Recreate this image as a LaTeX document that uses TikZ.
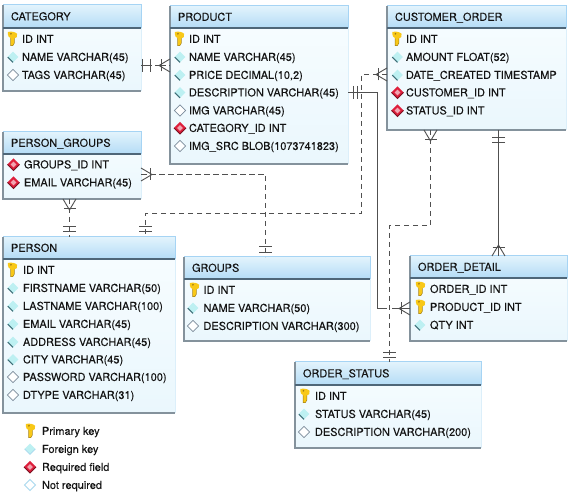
\documentclass[tikz,border=0pt]{standalone}
\usepackage{fontspec}
\setmainfont{TeX Gyre Heros}[FakeBold=0.1]
\definecolor{linec}{HTML}{505050}
\definecolor{bodya}{HTML}{F8FDFF}
\definecolor{bodyb}{HTML}{EAF7FD}
\definecolor{heada}{HTML}{E2F3FC}
\definecolor{headb}{HTML}{B4DCF6}
\definecolor{edgeblue}{HTML}{A6D4F4}
\definecolor{edgefaint}{HTML}{DCEFFA}
\definecolor{edgegray}{HTML}{84929C}
\definecolor{headline}{HTML}{4E6678}
\definecolor{keyc}{HTML}{F8C818}
\definecolor{keyd}{HTML}{9C7A14}
\definecolor{fkc}{HTML}{BDF0F2}
\definecolor{fkd}{HTML}{3E6E78}
\definecolor{reqc}{HTML}{DE1F3C}
\definecolor{reqd}{HTML}{7A1020}
\definecolor{nrd}{HTML}{7C8C9C}
\definecolor{legedge}{HTML}{A8D8EE}
\tikzset{
  every node/.style={inner sep=0pt,outer sep=0pt},
  tblbody/.style={anchor=north west,top color=bodya,bottom color=bodyb,draw=none},
  tblhead/.style={anchor=north west,top color=heada,bottom color=headb,draw=none},
  rowtext/.style={anchor=base west,font=\fontsize{10.95}{12}\selectfont,text=black!92},
  conn/.style={draw=linec,line width=1.1pt},
  dconn/.style={conn,dash pattern=on 5.5pt off 3.5pt},
  mark line/.style={draw=linec,line width=0.9pt},
  pics/crow/.style={code={
    \draw[mark line] (0,-6.5) -- (11,0) -- (0,6.5);
    \draw[mark line] (9,-6) -- (9,6);
  }},
  pics/onebar/.style 2 args={code={
    \draw[mark line] (#1,-6.5) -- (#1,6.5);
    \draw[mark line] (#2,-6.5) -- (#2,6.5);
  }},
  pics/keyicon/.style={code={
    \fill[keyd] (-2.2,-1) -- (-2.2,7) -- (0.4,7) -- (2.2,4) -- (2.2,-1) -- cycle;
    \fill[keyc] (-4.6,-7) .. controls (-2,-7.6) and (2.4,-7.6) .. (4.6,-5.2)
      -- (4.2,-1.8) -- (1.7,-0.6) -- (1.7,3.7) -- (0.1,6.5) -- (-1.7,6.5) -- (-1.7,-0.6)
      .. controls (-3.7,-1.3) and (-4.8,-3) .. cycle;
    \fill[keyd] (-1.6,-5.2) circle (0.9);
  }},
  pics/fkicon/.style={code={
    \fill[fkc] (0,-5.4) -- (5.4,0) -- (0,5.4) -- (-5.4,0) -- cycle;
    \draw[fkd,line width=1.2pt] (-5.2,0.2) -- (0,5.4);
  }},
  pics/legfkicon/.style={code={
    \fill[fkc] (0,-5.4) -- (5.4,0) -- (0,5.4) -- (-5.4,0) -- cycle;
    \draw[legedge,line width=0.8pt] (-5.4,0) -- (0,5.4) -- (5.4,0);
  }},
  pics/reqicon/.style={code={
    \fill[reqc] (0,-6) -- (6,0) -- (0,6) -- (-6,0) -- cycle;
    \draw[reqd,line width=0.8pt] (-6,0) -- (0,6) -- (6,0);
    \fill[white!60!reqc] (0,-2.8) -- (2.8,0) -- (0,2.8) -- (-2.8,0) -- cycle;
  }},
  pics/nricon/.style={code={
    \fill[white] (0,-5.6) -- (5.6,0) -- (0,5.6) -- (-5.6,0) -- cycle;
    \draw[nrd,line width=0.8pt] (0,-5.6) -- (5.6,0) -- (0,5.6) -- (-5.6,0) -- cycle;
  }},
  pics/legnricon/.style={code={
    \fill[white] (0,-5.6) -- (5.6,0) -- (0,5.6) -- (-5.6,0) -- cycle;
    \draw[legedge,line width=0.9pt] (0,-5.6) -- (5.6,0) -- (0,5.6) -- (-5.6,0) -- cycle;
  }},
}
\newcount\rowno
% \tablebox{name}{x1}{y1}{x2}{y2}{header bottom}{title}
\newcommand{\tablebox}[7]{%
  \pgfmathsetmacro{\tw}{#4-#2}\pgfmathsetmacro{\th}{#5-#3}\pgfmathsetmacro{\thh}{#6-#3}%
  \node[tblbody,minimum width=\tw pt,minimum height=\th pt] (#1) at (#2,#3) {};
  \node[tblhead,minimum width=\tw pt,minimum height=\thh pt] (#1-head) at (#2,#3) {};
  \draw[edgefaint,line width=1pt] (#1.south east) -- (#1-head.south east);
  \draw[edgeblue,line width=1pt] (#1-head.south east) -- (#1.north east) -- (#1.north west);
  \draw[edgegray,line width=1.4pt] (#1.north west) -- (#1.south west) -- (#1.south east);
  \draw[headline,line width=1.1pt] (#1-head.south west) -- (#1-head.south east);
  \pgfmathsetmacro{\tx}{#2+8}\pgfmathsetmacro{\ty}{(#3+#6)/2+3.8}%
  \node[rowtext] (#1-title) at (\tx,\ty) {#7};
}
% \fieldrow{icon}{icon x}{text x}{y}{text}
\newcommand{\fieldrow}[5]{%
  \global\advance\rowno by 1
  \pgfmathsetmacro{\ry}{#4+3.9}%
  \pic at (#2,#4) {#1};
  \node[rowtext] (row\the\rowno) at (#3,\ry) {#5};
}
\begin{document}
\begin{tikzpicture}[x=1pt,y=-1pt]
\useasboundingbox (0,0) rectangle (571,494);
\fill[white] (0,0) rectangle (571,494);

\tablebox{category}{3}{5}{141}{91}{28}{CATEGORY}
\fieldrow{keyicon}{12.5}{22}{39}{ID INT}
\fieldrow{fkicon}{13}{22}{57}{NAME VARCHAR(45)}
\fieldrow{nricon}{13}{22}{75}{TAGS VARCHAR(45)}

\tablebox{product}{170}{6}{348}{164}{28}{PRODUCT}
\fieldrow{keyicon}{179.5}{189}{39}{ID INT}
\fieldrow{fkicon}{180}{189}{57}{NAME VARCHAR(45)}
\fieldrow{fkicon}{180}{189}{75}{PRICE DECIMAL(10,2)}
\fieldrow{fkicon}{180}{189}{92.5}{DESCRIPTION VARCHAR(45)}
\fieldrow{nricon}{180}{189}{110.5}{IMG VARCHAR(45)}
\fieldrow{reqicon}{180}{189}{128}{CATEGORY\_ID INT}
\fieldrow{nricon}{180}{189}{146}{IMG\_SRC BLOB(1073741823)}

\tablebox{customer}{387}{6}{566}{130}{28}{CUSTOMER\_ORDER}
\fieldrow{keyicon}{397}{406}{39}{ID INT}
\fieldrow{fkicon}{397.5}{406}{57}{AMOUNT FLOAT(52)}
\fieldrow{fkicon}{397.5}{406}{75}{DATE\_CREATED TIMESTAMP}
\fieldrow{reqicon}{397.5}{406}{92.5}{CUSTOMER\_ID INT}
\fieldrow{reqicon}{397.5}{406}{110.5}{STATUS\_ID INT}

\tablebox{pgroups}{3}{132}{141}{199}{154}{PERSON\_GROUPS}
\fieldrow{reqicon}{13.5}{24}{164.5}{GROUPS\_ID INT}
\fieldrow{reqicon}{13.5}{24}{182.5}{EMAIL VARCHAR(45)}

\tablebox{person}{3}{237}{175}{413}{259}{PERSON}
\fieldrow{keyicon}{12.5}{23}{270}{ID INT}
\fieldrow{fkicon}{13}{23}{288}{FIRSTNAME VARCHAR(50)}
\fieldrow{fkicon}{13}{23}{306}{LASTNAME VARCHAR(100)}
\fieldrow{fkicon}{13}{23}{324}{EMAIL VARCHAR(45)}
\fieldrow{fkicon}{13}{23}{342}{ADDRESS VARCHAR(45)}
\fieldrow{fkicon}{13}{23}{359.5}{CITY VARCHAR(45)}
\fieldrow{nricon}{13}{23}{377}{PASSWORD VARCHAR(100)}
\fieldrow{nricon}{13}{23}{395}{DTYPE VARCHAR(31)}

\tablebox{groups}{184}{257}{370}{341}{279}{GROUPS}
\fieldrow{keyicon}{194.5}{203.5}{290}{ID INT}
\fieldrow{fkicon}{193}{203.5}{308}{NAME VARCHAR(50)}
\fieldrow{nricon}{193}{203.5}{326}{DESCRIPTION VARCHAR(300)}

\tablebox{detail}{410}{256}{567}{341}{278}{ORDER\_DETAIL}
\fieldrow{keyicon}{420.5}{430}{289}{ORDER\_ID INT}
\fieldrow{keyicon}{420.5}{430}{307}{PRODUCT\_ID INT}
\fieldrow{fkicon}{420}{430}{325}{QTY INT}

\tablebox{status}{295}{362}{481}{448}{385}{ORDER\_STATUS}
\fieldrow{keyicon}{305}{315}{396}{ID INT}
\fieldrow{fkicon}{304}{315}{414}{STATUS VARCHAR(45)}
\fieldrow{nricon}{304}{315}{432}{DESCRIPTION VARCHAR(200)}

% legend
\fieldrow{keyicon}{30.5}{42}{431}{Primary key}
\fieldrow{legfkicon}{30}{42}{449}{Foreign key}
\fieldrow{reqicon}{30}{42}{467}{Required field}
\fieldrow{legnricon}{30}{42}{485}{Not required}

% connectors
\draw[conn,dash pattern=on 11pt off 3pt] (category.east |- 0,65.5) -- (product.west |- 0,65.5);
\pic at (category.east |- 0,65.5) {onebar={1.5}{9}};
\pic[rotate=180] at (product.west |- 0,65.5) {crow};

\draw[conn] (product.east |- 0,92.5) -- (377.5,92.5) |- (detail.west |- 0,308.5);
\pic at (product.east |- 0,92.5) {onebar={5}{9}};
\pic[rotate=180] at (detail.west |- 0,308.5) {crow};
\fill[white] (386.5,305) rectangle (392,312);

\draw[dconn] (customer.west |- 0,74.5) -- (361.5,74.5) -- (361.5,213.5) -- (145.5,213.5) -- (person.north -| 145.5,0);
\pic[rotate=180] at (customer.west |- 0,74.5) {crow};
\pic[rotate=90] at (person.north -| 145.5,0) {onebar={6}{11}};

\draw[dconn] (pgroups.east |- 0,174.5) -- (265.5,174.5) -- (groups.north -| 265.5,0);
\pic at (pgroups.east |- 0,174.5) {crow};
\pic[rotate=90] at (groups.north -| 265.5,0) {onebar={5}{11}};

\draw[dconn] (pgroups.south -| 69.5,0) -- (person.north -| 69.5,0);
\pic[rotate=-90] at (pgroups.south -| 69.5,0) {crow};
\pic[rotate=90] at (person.north -| 69.5,0) {onebar={6}{11}};

\draw[dconn] (customer.south -| 430.5,0) -- (430.5,225.5) -- (389.5,225.5) -- (status.north -| 389.5,0);
\pic[rotate=-90] at (customer.south -| 430.5,0) {crow};
\pic[rotate=90] at (status.north -| 389.5,0) {onebar={5}{10}};

\draw[conn] (customer.south -| 498.5,0) -- (detail.north -| 498.5,0);
\pic[rotate=-90] at (customer.south -| 498.5,0) {onebar={7}{12}};
\pic[rotate=90] at (detail.north -| 498.5,0) {crow};
\end{tikzpicture}
\end{document}
